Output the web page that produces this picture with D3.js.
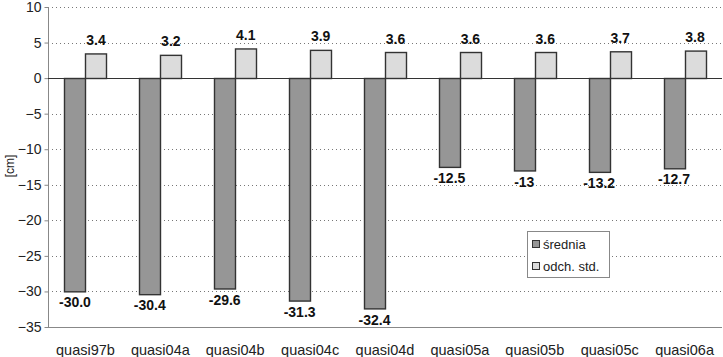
<!DOCTYPE html>
<html><head><meta charset="utf-8">
<script src="https://cdn.jsdelivr.net/npm/d3@7"></script>
<style>body{margin:0;background:#fff}svg{display:block;font-family:"Liberation Sans",Arial,sans-serif}</style>
</head><body><svg id="c" width="723" height="357"></svg>
<script>
const categories = ["quasi97b","quasi04a","quasi04b","quasi04c","quasi04d","quasi05a","quasi05b","quasi05c","quasi06a"];
const srednia = [-30.0,-30.4,-29.6,-31.3,-32.4,-12.5,-13,-13.2,-12.7];
const sredniaLabels = ["-30.0","-30.4","-29.6","-31.3","-32.4","-12.5","-13","-13.2","-12.7"];
const odch = [3.4,3.2,4.1,3.9,3.6,3.6,3.6,3.7,3.8];
const odchLabels = ["3.4","3.2","4.1","3.9","3.6","3.6","3.6","3.7","3.8"];
const yTicks = [10,5,0,-5,-10,-15,-20,-25,-30,-35];
const seriesNames = ["średnia","odch. std."];

const svg = d3.select("#c");
const L = 48, R = 722, T = 7, B = 327;
const x = d3.scaleBand().domain(categories).range([L,R]);
const y = d3.scaleLinear().domain([-35,10]).range([B,T]);
const bw = 21;

// grid
svg.append("g").selectAll("line").data(yTicks.filter(d=>d!==0 && d!==-35)).join("line")
  .attr("x1",L).attr("x2",R).attr("y1",d=>Math.round(y(d))+0.5).attr("y2",d=>Math.round(y(d))+0.5)
  .attr("stroke","#777").attr("stroke-dasharray","1,3");
// axes lines
svg.append("line").attr("x1",L+0.5).attr("x2",L+0.5).attr("y1",T).attr("y2",B).attr("stroke","#888");
svg.append("line").attr("x1",L).attr("x2",R).attr("y1",Math.round(y(-35))+0.5).attr("y2",Math.round(y(-35))+0.5).attr("stroke","#888");

// y ticks
const yAxis = d3.axisLeft(y).tickValues(yTicks).tickSize(4).tickFormat(d3.format("d"));
const ga = svg.append("g").attr("transform",`translate(${L+0.5},0)`).call(yAxis);
ga.select(".domain").remove();
ga.selectAll("line").attr("stroke","#888");
ga.selectAll("text").attr("font-size",14).attr("fill","#222").attr("x",-7).attr("font-family","Liberation Sans, Arial, sans-serif");

// bars
const g = svg.append("g");
g.selectAll("rect.s").data(srednia).join("rect").attr("class","s")
  .attr("x",(d,i)=>Math.round(x(categories[i])+x.bandwidth()/2-bw)+0.5)
  .attr("width",bw).attr("y",d=>Math.round(y(0))+0.5).attr("height",d=>y(d)-y(0))
  .attr("fill","#969696").attr("stroke","#333").attr("stroke-width",1.4);
g.selectAll("rect.o").data(odch).join("rect").attr("class","o")
  .attr("x",(d,i)=>Math.round(x(categories[i])+x.bandwidth()/2)+0.5)
  .attr("width",bw).attr("y",d=>y(d)).attr("height",d=>Math.round(y(0))+0.5-y(d))
  .attr("fill","#dcdcdc").attr("stroke","#333").attr("stroke-width",1.4);

// zero line
svg.append("line").attr("x1",L).attr("x2",R).attr("y1",Math.round(y(0))+0.5).attr("y2",Math.round(y(0))+0.5).attr("stroke","#333").attr("stroke-width",1.2);

// value labels
g.selectAll("text.s").data(srednia).join("text")
  .attr("x",(d,i)=>x(categories[i])+x.bandwidth()/2-bw/2)
  .attr("y",d=>y(d)+16).attr("text-anchor","middle").attr("font-size",14).attr("font-weight","bold").attr("fill","#111")
  .text((d,i)=>sredniaLabels[i]);
g.selectAll("text.o").data(odch).join("text")
  .attr("x",(d,i)=>x(categories[i])+x.bandwidth()/2+bw/2)
  .attr("y",d=>y(d)-9).attr("text-anchor","middle").attr("font-size",14).attr("font-weight","bold").attr("fill","#111")
  .text((d,i)=>odchLabels[i]);

// x labels
const xAxis = d3.axisBottom(x).tickSize(0);
const gx = svg.append("g").attr("transform",`translate(0,${B})`).call(xAxis);
gx.select(".domain").remove();
gx.selectAll("text").attr("font-size",14.5).attr("fill","#222").attr("dy",0).attr("y",28).attr("font-family","Liberation Sans, Arial, sans-serif");

// y label
svg.append("text").attr("transform","translate(14,166) rotate(-90)").attr("text-anchor","middle")
  .attr("font-size",12).attr("fill","#222").text("[cm]");

// legend
const lg = svg.append("g");
lg.append("rect").attr("x",527.5).attr("y",231.5).attr("width",82).attr("height",46).attr("fill","#fff").attr("stroke","#888");
const colors = ["#969696","#dcdcdc"];
seriesNames.forEach((n,i)=>{
  lg.append("rect").attr("x",532.5).attr("y",240.5+i*22).attr("width",7).attr("height",7).attr("fill",colors[i]).attr("stroke","#333");
  lg.append("text").attr("x",543).attr("y",249+i*22).attr("font-size",13).attr("fill","#222").text(n);
});
</script></body></html>
